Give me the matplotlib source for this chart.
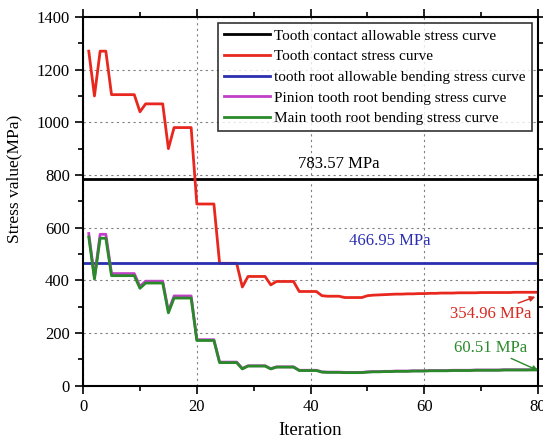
import numpy as np
from matplotlib import pyplot as plt
from matplotlib.ticker import MultipleLocator

# Iteration numbers
iters = list(range(1, 81))

# Tooth contact stress curve (MPa)
contact = [1270, 1100, 1270, 1270, 1105, 1105, 1105, 1105, 1105, 1040,
           1070, 1070, 1070, 1070, 900, 980, 980, 980, 980, 690,
           690, 690, 690, 465, 465, 465, 465, 375, 415, 415,
           415, 415, 383, 396, 396, 396, 396, 358, 358, 358,
           358, 342, 340, 340, 340, 335, 335, 335, 335, 342,
           344, 345, 346, 347, 348, 348, 349, 349, 350, 350,
           351, 351, 352, 352, 352, 353, 353, 353, 353, 354,
           354, 354, 354, 354, 354, 355, 355, 355, 355, 354.96]

# Main tooth root bending stress curve (MPa)
main_root = [565, 405, 560, 560, 418, 418, 418, 418, 418, 370,
             390, 390, 390, 390, 277, 333, 333, 333, 333, 172,
             172, 172, 172, 88, 88, 88, 88, 64, 75, 75,
             75, 75, 64, 71, 71, 71, 71, 58, 58, 58,
             58, 52, 51, 51, 51, 50, 50, 50, 50, 52,
             53, 53, 54, 54, 55, 55, 55, 56, 56, 56,
             57, 57, 57, 57, 58, 58, 58, 58, 59, 59,
             59, 59, 59, 60, 60, 60, 60, 60, 60.5, 60.51]

# Pinion tooth root bending stress curve (MPa)
pinion_root = [578, 412, 575, 575, 426, 426, 426, 426, 426, 377,
               397, 397, 397, 397, 283, 341, 341, 341, 341, 175,
               175, 175, 175, 90, 90, 90, 90, 66, 76, 76,
               76, 76, 65, 72, 72, 72, 72, 59, 59, 59,
               59, 53, 52, 52, 52, 51, 51, 51, 51, 53,
               54, 54, 55, 55, 56, 56, 56, 57, 57, 57,
               58, 58, 58, 58, 59, 59, 59, 59, 60, 60,
               60, 60, 60, 61, 61, 61, 61, 61, 61, 61]

contact_allow = 783.57
bending_allow = 466.95

plt.rcParams['font.family'] = ['Liberation Serif', 'DejaVu Serif']

fig = plt.figure(figsize=(5.43, 4.45), dpi=100)
ax = fig.add_axes([0.153, 0.133, 0.838, 0.829])

ax.plot([0, 80], [contact_allow, contact_allow], color="black", lw=2, label="Tooth contact allowable stress curve")
ax.plot(iters, contact, color="#e8281e", lw=2, label="Tooth contact stress curve")
ax.plot([0, 80], [bending_allow, bending_allow], color="#2a2fb0", lw=2, label="tooth root allowable bending stress curve")
ax.plot(iters, pinion_root, color="#c040c8", lw=2, label="Pinion tooth root bending stress curve")
ax.plot(iters, main_root, color="#2a8a2a", lw=2, label="Main tooth root bending stress curve")

ax.set_xlim(0, 80)
ax.set_ylim(0, 1400)
ax.xaxis.set_major_locator(MultipleLocator(20))
ax.xaxis.set_minor_locator(MultipleLocator(10))
ax.yaxis.set_major_locator(MultipleLocator(200))
ax.yaxis.set_minor_locator(MultipleLocator(100))
ax.tick_params(which="both", direction="out", top=True, right=True, labelsize=12, width=1.2)
ax.tick_params(which="major", length=6)
ax.tick_params(which="minor", length=3.5)
for s in ax.spines.values():
	s.set_linewidth(1.5)

ax.grid(which="major", color="gray", linestyle=(0, (2, 3)), linewidth=0.8)
ax.set_xlabel("Iteration", fontsize=13.5, labelpad=5)
ax.set_ylabel("Stress value(MPa)", fontsize=12.5)
ax.yaxis.set_label_coords(-0.134, 0.56)

ax.text(45, 840, "783.57 MPa", color="black", fontsize=12, ha="center", va="center")
ax.text(54, 548, "466.95 MPa", color="#2a2fb0", fontsize=12, ha="center", va="center")
ax.annotate("354.96 MPa", xy=(79.5, 338), xytext=(71.6, 273), color="#d62a20", fontsize=12,
            ha="center", va="center",
            arrowprops=dict(arrowstyle="-|>", color="#d62a20", lw=1, shrinkA=0, shrinkB=0,
                            mutation_scale=8, relpos=(0.75, 1.0)))
ax.annotate("60.51 MPa", xy=(80, 58), xytext=(71.6, 145), color="#2a8a2a", fontsize=12,
            ha="center", va="center",
            arrowprops=dict(arrowstyle="-|>", color="#2a8a2a", lw=1, shrinkA=0, shrinkB=0,
                            mutation_scale=8, relpos=(0.7, 0.0)))

leg = ax.legend(loc="upper right", fontsize=11, frameon=True, fancybox=False, edgecolor="black",
                handlelength=3.0, borderaxespad=0.4, labelspacing=0.45, handletextpad=0.3, borderpad=0.4)
leg.get_frame().set_linewidth(1.2)

plt.savefig("out.png", dpi=100)
plt.close()
